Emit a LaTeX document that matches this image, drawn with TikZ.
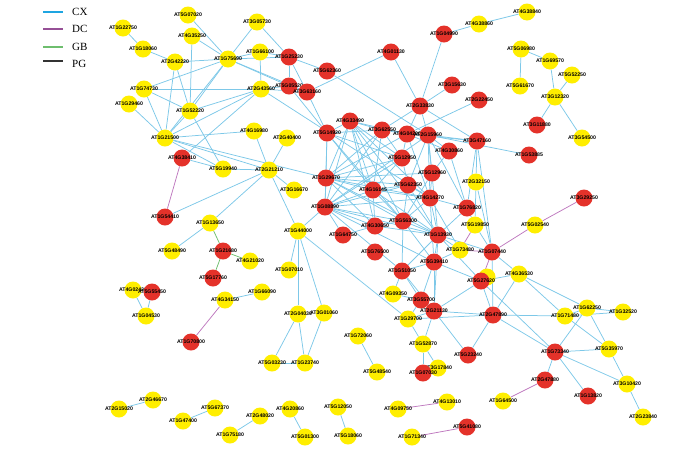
\documentclass[tikz,border=0pt]{standalone}
\usepackage{fontspec}
\setmainfont{Liberation Serif}
\newfontfamily\lblfont{Liberation Sans}
\usetikzlibrary{backgrounds}
\definecolor{cxc}{RGB}{125,200,232}
\definecolor{cxleg}{RGB}{30,165,225}
\definecolor{dcc}{RGB}{190,120,190}
\definecolor{dcleg}{RGB}{150,80,150}
\definecolor{gbc}{RGB}{110,190,110}
\definecolor{yel}{RGB}{255,238,0}
\definecolor{redn}{RGB}{228,50,42}
\tikzset{
  yn/.style={circle,fill=yel,minimum size=17pt,inner sep=0pt},
  rn/.style={circle,fill=redn,minimum size=17pt,inner sep=0pt},
  lbl/.style={inner sep=0pt,font=\lblfont\bfseries\fontsize{5.2}{6}\selectfont},
  cx/.style={draw=cxc,line width=0.75pt},
  dc/.style={draw=dcc,line width=0.75pt},
  gb/.style={draw=gbc,line width=0.75pt},
  legtxt/.style={inner sep=0pt,anchor=west,font=\fontsize{11}{12}\selectfont}
}
\newcommand\genenode[5]{\node[#4] (#1) at (#2,#3) {}; \node[lbl] (#1t) at (#1) {#5};}
\begin{document}
\begin{tikzpicture}[x=1pt,y=-1pt]
\useasboundingbox (0,0) rectangle (700,448);
% legend
\coordinate (l1a) at (43,12); \coordinate (l1b) at (63,12);
\coordinate (l2a) at (43,29); \coordinate (l2b) at (63,29);
\coordinate (l3a) at (43,47); \coordinate (l3b) at (63,47);
\coordinate (l4a) at (43,61); \coordinate (l4b) at (63,61);
\draw[cxleg,line width=1.4pt] (l1a) -- (l1b);
\draw[dcleg,line width=1.2pt] (l2a) -- (l2b);
\draw[gbc,line width=1.2pt] (l3a) -- (l3b);
\draw[black!80,line width=1.2pt] (l4a) -- (l4b);
\node[legtxt] (lg1) at (72,12) {CX};
\node[legtxt] (lg2) at (72,29) {DC};
\node[legtxt] (lg3) at (72,47) {GB};
\node[legtxt] (lg4) at (72,64) {PG};
% nodes
\genenode{AT1G22750}{123}{28}{yn}{AT1G22750}
\genenode{AT1G18060}{143}{49}{yn}{AT1G18060}
\genenode{AT1G74730}{144}{89}{yn}{AT1G74730}
\genenode{AT1G29460}{129}{104}{yn}{AT1G29460}
\genenode{AT1G21500}{165}{138}{yn}{AT1G21500}
\genenode{AT5G07020}{188}{15}{yn}{AT5G07020}
\genenode{AT4G35250}{192}{36}{yn}{AT4G35250}
\genenode{AT2G42220}{175}{62}{yn}{AT2G42220}
\genenode{AT1G75690}{228}{59}{yn}{AT1G75690}
\genenode{AT3G05730}{257}{22}{yn}{AT3G05730}
\genenode{AT1G66100}{260}{52}{yn}{AT1G66100}
\genenode{AT1G25230}{289}{57}{rn}{AT1G25230}
\genenode{AT5G62360}{327}{71}{rn}{AT5G62360}
\genenode{AT2G43560}{261}{89}{yn}{AT2G43560}
\genenode{AT5G05520}{289}{86}{rn}{AT5G05520}
\genenode{AT3G63160}{307}{92}{rn}{AT3G63160}
\genenode{AT1G52220}{190}{111}{yn}{AT1G52220}
\genenode{AT4G16980}{254}{131}{yn}{AT4G16980}
\genenode{AT2G40400}{287}{138}{yn}{AT2G40400}
\genenode{AT5G14920}{327}{133}{rn}{AT5G14920}
\genenode{AT4G38860}{479}{24}{yn}{AT4G38860}
\genenode{AT1G04990}{444}{34}{rn}{AT1G04990}
\genenode{AT4G01130}{391}{52}{rn}{AT4G01130}
\genenode{AT3G15630}{452}{85}{rn}{AT3G15630}
\genenode{AT2G22450}{479}{100}{rn}{AT2G22450}
\genenode{AT2G33830}{420}{106}{rn}{AT2G33830}
\genenode{AT4G33490}{350}{121}{rn}{AT4G33490}
\genenode{AT3G62550}{382}{130}{rn}{AT3G62550}
\genenode{AT4G04200}{407}{134}{rn}{AT4G04200}
\genenode{AT2G15960}{428}{135}{rn}{AT2G15960}
\genenode{AT3G47160}{477}{141}{rn}{AT3G47160}
\genenode{AT4G30860}{449}{151}{rn}{AT4G30860}
\genenode{AT4G38840}{527}{12}{yn}{AT4G38840}
\genenode{AT5G06980}{521}{49}{yn}{AT5G06980}
\genenode{AT1G69570}{550}{61}{yn}{AT1G69570}
\genenode{AT5G61670}{520}{86}{yn}{AT5G61670}
\genenode{AT5G52250}{572}{75}{yn}{AT5G52250}
\genenode{AT3G12320}{555}{97}{yn}{AT3G12320}
\genenode{AT3G11880}{537}{125}{rn}{AT3G11880}
\genenode{AT3G54500}{582}{138}{yn}{AT3G54500}
\genenode{AT1G53885}{529}{155}{rn}{AT1G53885}
\genenode{AT4G38410}{182}{158}{rn}{AT4G38410}
\genenode{AT5G19940}{223}{169}{yn}{AT5G19940}
\genenode{AT2G21210}{269}{170}{yn}{AT2G21210}
\genenode{AT3G16670}{294}{190}{yn}{AT3G16670}
\genenode{AT1G29670}{326}{178}{rn}{AT1G29670}
\genenode{AT1G08890}{325}{207}{rn}{AT1G08890}
\genenode{AT1G54410}{165}{217}{rn}{AT1G54410}
\genenode{AT1G13650}{210}{223}{yn}{AT1G13650}
\genenode{AT5G48490}{172}{251}{yn}{AT5G48490}
\genenode{AT1G21680}{223}{251}{rn}{AT1G21680}
\genenode{AT4G21020}{250}{261}{yn}{AT4G21020}
\genenode{AT5G17760}{213}{278}{rn}{AT5G17760}
\genenode{AT1G44000}{298}{231}{yn}{AT1G44000}
\genenode{AT1G07010}{289}{270}{yn}{AT1G07010}
\genenode{AT1G64750}{343}{235}{rn}{AT1G64750}
\genenode{AT1G66090}{262}{292}{yn}{AT1G66090}
\genenode{AT4G34150}{225}{300}{yn}{AT4G34150}
\genenode{AT5G12950}{402}{158}{rn}{AT5G12950}
\genenode{AT5G12960}{432}{173}{rn}{AT5G12960}
\genenode{AT2G32150}{476}{182}{yn}{AT2G32150}
\genenode{AT4G16145}{373}{190}{rn}{AT4G16145}
\genenode{AT5G62350}{408}{185}{rn}{AT5G62350}
\genenode{AT4G14270}{430}{198}{rn}{AT4G14270}
\genenode{AT1G76820}{467}{208}{rn}{AT1G76820}
\genenode{AT5G19850}{475}{225}{yn}{AT5G19850}
\genenode{AT4G30650}{375}{226}{rn}{AT4G30650}
\genenode{AT1G56300}{403}{221}{rn}{AT1G56300}
\genenode{AT1G13930}{438}{235}{rn}{AT1G13930}
\genenode{AT1G73480}{460}{250}{yn}{AT1G73480}
\genenode{AT1G07440}{492}{252}{rn}{AT1G07440}
\genenode{AT1G76500}{375}{252}{rn}{AT1G76500}
\genenode{AT5G39410}{434}{262}{rn}{AT5G39410}
\genenode{AT1G51050}{402}{271}{rn}{AT1G51050}
\node[yn] (AT5G27620y) at (487,277) {};
\genenode{AT5G27620}{481}{281}{rn}{AT5G27620}
\genenode{AT4G36530}{519}{274}{yn}{AT4G36530}
\genenode{AT3G29250}{584}{198}{rn}{AT3G29250}
\genenode{AT5G02540}{535}{225}{yn}{AT5G02540}
\genenode{AT4G02420}{133}{290}{yn}{AT4G02420}
\genenode{AT5G55450}{152}{292}{rn}{AT5G55450}
\genenode{AT1G04530}{146}{316}{yn}{AT1G04530}
\genenode{AT1G70800}{191}{342}{rn}{AT1G70800}
\genenode{AT2G04030}{298}{314}{yn}{AT2G04030}
\genenode{AT3G01060}{324}{313}{yn}{AT3G01060}
\genenode{AT5G03230}{272}{363}{yn}{AT5G03230}
\genenode{AT1G23740}{305}{363}{yn}{AT1G23740}
\genenode{AT4G09350}{393}{294}{yn}{AT4G09350}
\genenode{AT3G55700}{421}{300}{rn}{AT3G55700}
\genenode{AT2G21130}{434}{311}{rn}{AT2G21130}
\genenode{AT2G47890}{493}{315}{rn}{AT2G47890}
\genenode{AT1G29700}{408}{319}{yn}{AT1G29700}
\genenode{AT1G72060}{358}{336}{yn}{AT1G72060}
\genenode{AT1G52870}{423}{344}{yn}{AT1G52870}
\genenode{AT5G23240}{468}{355}{rn}{AT5G23240}
\genenode{AT3G17840}{438}{368}{yn}{AT3G17840}
\genenode{AT1G07030}{423}{373}{rn}{AT1G07030}
\genenode{AT5G48540}{377}{372}{yn}{AT5G48540}
\genenode{AT1G62250}{587}{308}{yn}{AT1G62250}
\genenode{AT1G32520}{623}{312}{yn}{AT1G32520}
\genenode{AT1G71480}{565}{316}{yn}{AT1G71480}
\genenode{AT1G73340}{555}{352}{rn}{AT1G73340}
\genenode{AT5G35970}{609}{349}{yn}{AT5G35970}
\genenode{AT2G47880}{545}{380}{rn}{AT2G47880}
\genenode{AT1G13820}{588}{396}{rn}{AT1G13820}
\genenode{AT3G10420}{627}{384}{yn}{AT3G10420}
\genenode{AT2G23840}{643}{417}{yn}{AT2G23840}
\genenode{AT2G46670}{153}{400}{yn}{AT2G46670}
\genenode{AT2G15020}{119}{409}{yn}{AT2G15020}
\genenode{AT5G67370}{215}{408}{yn}{AT5G67370}
\genenode{AT1G47400}{183}{421}{yn}{AT1G47400}
\genenode{AT2G48020}{260}{416}{yn}{AT2G48020}
\genenode{AT1G75180}{230}{435}{yn}{AT1G75180}
\genenode{AT4G20860}{290}{409}{yn}{AT4G20860}
\genenode{AT5G01300}{305}{437}{yn}{AT5G01300}
\genenode{AT5G12050}{338}{407}{yn}{AT5G12050}
\genenode{AT5G18060}{348}{436}{yn}{AT5G18060}
\genenode{AT4G09750}{398}{409}{yn}{AT4G09750}
\genenode{AT4G13010}{447}{402}{yn}{AT4G13010}
\genenode{AT1G71340}{412}{437}{yn}{AT1G71340}
\genenode{AT5G41080}{467}{427}{rn}{AT5G41080}
\genenode{AT1G64500}{503}{401}{yn}{AT1G64500}
\begin{pgfonlayer}{background}
\foreach \a/\b in {AT1G22750/AT1G18060,AT1G18060/AT2G42220,AT2G42220/AT1G75690,AT2G42220/AT1G52220,AT2G42220/AT1G21500,
AT1G74730/AT1G75690,AT1G74730/AT2G43560,AT1G74730/AT1G52220,AT1G74730/AT1G21500,AT1G29460/AT1G21500,
AT5G07020/AT1G75690,AT4G35250/AT1G75690,AT4G35250/AT1G52220,AT3G05730/AT1G75690,AT3G05730/AT1G25230,
AT1G66100/AT1G75690,AT1G66100/AT1G25230,AT1G66100/AT2G43560,AT1G75690/AT1G25230,AT1G75690/AT1G52220,
AT1G75690/AT1G21500,AT1G75690/AT3G63160,AT1G75690/AT5G05520,AT1G25230/AT5G05520,AT1G25230/AT3G63160,
AT1G25230/AT5G62360,AT2G43560/AT5G05520,AT2G43560/AT3G63160,AT2G43560/AT1G21500,AT2G43560/AT1G52220,
AT2G43560/AT4G14270,AT3G63160/AT5G14920,AT3G63160/AT4G01130,AT5G05520/AT5G14920,AT5G62360/AT2G15960,
AT1G21500/AT4G16980,AT1G21500/AT5G19940,AT1G21500/AT2G21210,AT1G21500/AT1G52220,AT1G21500/AT1G29670,
AT1G52220/AT5G19940,AT4G38410/AT5G19940,AT4G38410/AT2G43560,AT4G16980/AT2G21210,AT2G40400/AT2G21210,
AT2G21210/AT5G19940,AT2G21210/AT1G54410,AT2G21210/AT1G13650,AT2G21210/AT3G16670,AT2G21210/AT1G44000,
AT1G13650/AT5G48490,AT1G44000/AT1G07010,AT1G44000/AT2G04030,AT1G44000/AT3G01060,AT1G44000/AT1G29700,
AT1G44000/AT1G08890,AT2G04030/AT5G03230,AT2G04030/AT1G23740,AT3G01060/AT1G23740,AT5G03230/AT1G23740,
AT1G66090/AT4G34150,AT4G02420/AT1G04530,AT5G55450/AT1G04530,AT2G15020/AT2G46670,AT1G47400/AT5G67370,
AT2G48020/AT1G75180,AT4G20860/AT5G01300,AT5G12050/AT5G18060,AT1G72060/AT5G48540,
AT4G38860/AT1G04990,AT4G38860/AT4G38840,AT5G06980/AT1G69570,AT5G06980/AT5G61670,AT1G69570/AT3G12320,
AT5G52250/AT3G12320,AT3G12320/AT3G11880,AT3G12320/AT3G54500,AT1G04990/AT2G33830,AT4G01130/AT2G33830,
AT2G33830/AT3G15630,AT2G33830/AT3G47160,AT2G33830/AT3G62550,AT2G33830/AT4G04200,AT2G33830/AT2G15960,
AT2G22450/AT4G04200,AT3G47160/AT2G15960,AT3G47160/AT4G04200,AT3G47160/AT2G32150,AT3G47160/AT1G76820,
AT3G47160/AT1G07440,AT1G53885/AT2G15960,
AT5G14920/AT4G33490,AT5G14920/AT1G29670,AT5G14920/AT1G08890,AT5G14920/AT4G16145,AT5G14920/AT5G12950,
AT5G14920/AT3G62550,AT5G14920/AT1G56300,AT4G33490/AT3G62550,AT4G33490/AT1G29670,AT4G33490/AT1G08890,
AT4G33490/AT4G16145,AT4G33490/AT4G30650,AT4G33490/AT1G56300,AT4G33490/AT5G12950,AT4G33490/AT4G04200,
AT4G33490/AT1G13930,AT4G33490/AT4G14270,AT3G62550/AT4G04200,AT3G62550/AT5G12950,AT3G62550/AT1G29670,
AT3G62550/AT4G16145,AT3G62550/AT1G08890,AT4G04200/AT2G15960,AT4G04200/AT5G12950,AT4G04200/AT4G14270,
AT4G04200/AT4G30860,AT4G04200/AT1G29670,AT2G15960/AT4G30860,AT2G15960/AT5G12960,AT2G15960/AT4G14270,
AT2G15960/AT1G76820,AT2G15960/AT5G62350,AT2G15960/AT1G13930,AT2G15960/AT1G08890,AT4G30860/AT5G12960,
AT4G30860/AT1G76820,AT5G12950/AT1G29670,AT5G12950/AT5G62350,AT5G12950/AT4G16145,AT5G12950/AT1G08890,
AT5G12960/AT4G14270,AT5G12960/AT1G29670,AT5G12960/AT1G56300,AT1G29670/AT4G16145,AT1G29670/AT5G62350,
AT1G29670/AT4G14270,AT1G29670/AT1G56300,AT1G29670/AT4G30650,AT1G29670/AT1G13930,AT1G29670/AT1G08890,
AT1G08890/AT4G16145,AT1G08890/AT5G62350,AT1G08890/AT4G14270,AT1G08890/AT1G56300,AT1G08890/AT4G30650,
AT1G08890/AT1G13930,AT1G08890/AT5G39410,AT1G08890/AT1G51050,AT1G08890/AT1G64750,AT4G16145/AT5G62350,
AT4G16145/AT4G14270,AT4G16145/AT1G56300,AT4G16145/AT4G30650,AT4G16145/AT1G13930,AT5G62350/AT4G14270,
AT5G62350/AT1G56300,AT5G62350/AT1G13930,AT4G14270/AT1G56300,AT4G14270/AT1G13930,AT4G14270/AT1G76820,
AT4G14270/AT5G39410,AT4G14270/AT1G73480,AT4G30650/AT1G56300,AT4G30650/AT1G13930,AT4G30650/AT1G64750,
AT1G56300/AT1G13930,AT1G56300/AT5G39410,AT1G56300/AT1G51050,AT1G13930/AT5G39410,AT1G13930/AT1G73480,
AT1G13930/AT1G07440,AT1G13930/AT1G51050,AT1G13930/AT5G27620,AT1G13930/AT2G21130,AT1G76820/AT5G19850,
AT1G76820/AT1G13930,AT2G32150/AT1G07440,AT2G32150/AT5G19850,AT5G19850/AT1G07440,AT1G73480/AT5G39410,
AT5G39410/AT1G51050,AT5G39410/AT5G27620,AT5G39410/AT3G55700,AT5G39410/AT2G21130,AT1G51050/AT4G09350,
AT1G51050/AT3G55700,AT1G51050/AT2G21130,AT5G27620/AT4G36530,AT5G27620/AT2G47890,AT5G27620/AT2G21130,
AT5G27620/AT1G73340,AT1G07440/AT4G36530,AT1G07440/AT2G47890,AT4G36530/AT1G71480,AT4G36530/AT1G62250,
AT4G36530/AT2G47890,AT3G55700/AT2G21130,AT3G55700/AT1G29700,AT3G55700/AT4G09350,AT2G21130/AT1G29700,
AT2G21130/AT2G47890,AT2G21130/AT5G23240,AT2G21130/AT1G52870,AT1G29700/AT2G47890,AT1G29700/AT1G52870,
AT1G52870/AT1G07030,AT1G52870/AT3G17840,AT2G47890/AT5G23240,AT2G47890/AT1G71480,AT2G47890/AT1G73340,
AT1G62250/AT1G32520,AT1G62250/AT5G35970,AT1G62250/AT1G73340,AT1G62250/AT1G71480,AT1G71480/AT1G32520,
AT1G71480/AT5G35970,AT1G73340/AT5G35970,AT1G73340/AT2G47880,AT1G73340/AT1G13820,AT1G73340/AT3G10420,
AT5G35970/AT3G10420,AT3G10420/AT2G23840}
  {\draw[cx] (\a) -- (\b);}
\foreach \a/\b in {AT4G38410/AT1G54410,AT4G34150/AT1G70800,AT4G09750/AT4G13010,AT1G71340/AT5G41080,
AT1G64500/AT2G47880,AT5G02540/AT3G29250,AT5G02540/AT1G07440,AT5G19850/AT1G73480,AT1G73480/AT1G07440,
AT1G07440/AT5G27620}
  {\draw[dc] (\a) -- (\b);}
\foreach \a/\b in {AT1G13650/AT1G21680,AT1G21680/AT4G21020,AT1G21680/AT5G17760}
  {\draw[gb] (\a) -- (\b);}
\end{pgfonlayer}
\end{tikzpicture}
\end{document}
